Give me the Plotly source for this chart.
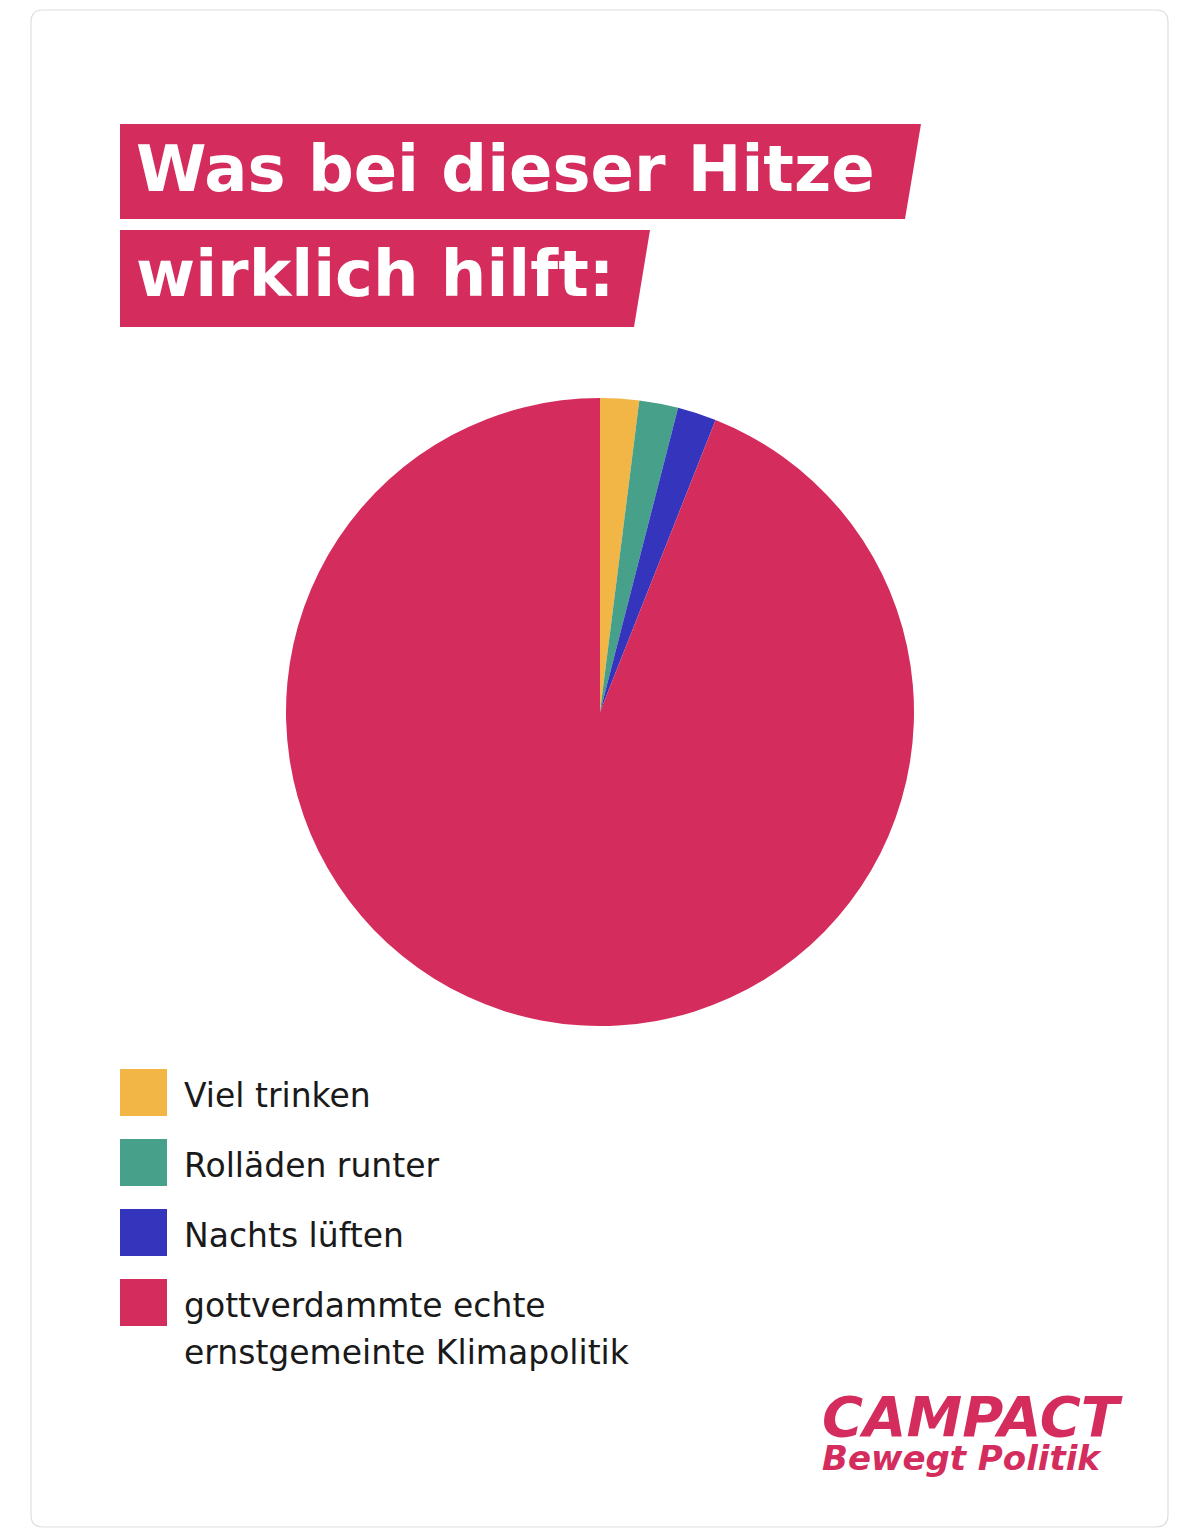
import plotly.graph_objects as go

# ---- data ----
labels = ["Viel trinken", "Rolläden runter", "Nachts lüften",
          "gottverdammte echte<br>ernstgemeinte Klimapolitik"]
values = [2, 2, 2, 94]
colors = ["#F2B647", "#46A08A", "#3434BD", "#D42C5D"]
title_lines = ["Was bei dieser Hitze", "wirklich hilft:"]
logo_main = "CAMPACT"
logo_sub = "Bewegt Politik"

W, H = 1184, 1536
PINK = "#D42C5D"
FONT = "DejaVu Sans"


def px(x):
    return x / W


def py(y):
    return 1 - y / H


fig = go.Figure()

# pie centred at (600,712) with radius 314 px
cx, cy, r = 600, 712, 314
fig.add_trace(go.Pie(
    labels=labels, values=values, sort=False, direction="clockwise",
    rotation=0, marker=dict(colors=colors, line=dict(width=0)),
    textinfo="none", hoverinfo="skip", showlegend=False,
    domain=dict(x=[px(cx - r), px(cx + r)], y=[py(cy + r), py(cy - r)]),
))

shapes = []
annotations = []

# card border (rounded rectangle)
x0, y0, x1, y1, rr = 31, 10, 1168, 1527, 12
path = (f"M {px(x0+rr)},{py(y0)} L {px(x1-rr)},{py(y0)} "
        f"Q {px(x1)},{py(y0)} {px(x1)},{py(y0+rr)} L {px(x1)},{py(y1-rr)} "
        f"Q {px(x1)},{py(y1)} {px(x1-rr)},{py(y1)} L {px(x0+rr)},{py(y1)} "
        f"Q {px(x0)},{py(y1)} {px(x0)},{py(y1-rr)} L {px(x0)},{py(y0+rr)} "
        f"Q {px(x0)},{py(y0)} {px(x0+rr)},{py(y0)} Z")
shapes.append(dict(type="path", xref="paper", yref="paper", path=path,
                   line=dict(color="#DEDEDE", width=1.2), fillcolor="white",
                   layer="below"))

# title boxes with slanted right edges
boxes = [(124, 219, 921, 905, 169), (230, 327, 650, 634, 274)]
for (top, bot, rt, rb, mid), line in zip(boxes, title_lines):
    p = (f"M {px(120)},{py(top)} L {px(rt)},{py(top)} L {px(rb)},{py(bot)} "
         f"L {px(120)},{py(bot)} Z")
    shapes.append(dict(type="path", xref="paper", yref="paper", path=p,
                       line=dict(width=0), fillcolor=PINK, layer="above"))
    annotations.append(dict(
        x=px(134), y=py(mid), xref="paper", yref="paper",
        xanchor="left", yanchor="middle", showarrow=False, text=line,
        font=dict(family=FONT, size=64, color="white", weight=700)))

# legend
leg_top = 1069
step = 70
for i, (lab, col) in enumerate(zip(labels, colors)):
    t = leg_top + i * step
    shapes.append(dict(type="rect", xref="paper", yref="paper",
                       x0=px(120), x1=px(167), y0=py(t + 47), y1=py(t),
                       line=dict(width=0), fillcolor=col))
    for j, part in enumerate(lab.split("<br>")):
        annotations.append(dict(
            x=px(182), y=py(t + 26 + j * 47), xref="paper", yref="paper",
            xanchor="left", yanchor="middle", align="left", showarrow=False,
            text=part,
            font=dict(family=FONT, size=33, color="#1A1A1A")))

# logo (one annotation, two lines)
logo_text = (f"<i><span style='font-size:56px'>{logo_main}</span><br>"
             f"<span style='font-size:34px'>{logo_sub}</span></i>")
annotations.append(dict(x=px(820), y=py(1431), xref="paper", yref="paper",
                        xanchor="left", yanchor="middle", align="left",
                        showarrow=False, text=logo_text,
                        font=dict(family=FONT, size=26, color=PINK,
                                  weight=700)))

fig.update_layout(
    width=W, height=H, margin=dict(l=0, r=0, t=0, b=0),
    paper_bgcolor="white", plot_bgcolor="white",
    shapes=shapes, annotations=annotations, showlegend=False,
)

fig.write_html("out.html", config={"displayModeBar": False},
               post_script=("document.body.style.margin='0';"
                            "document.body.style.overflow='hidden';"))
